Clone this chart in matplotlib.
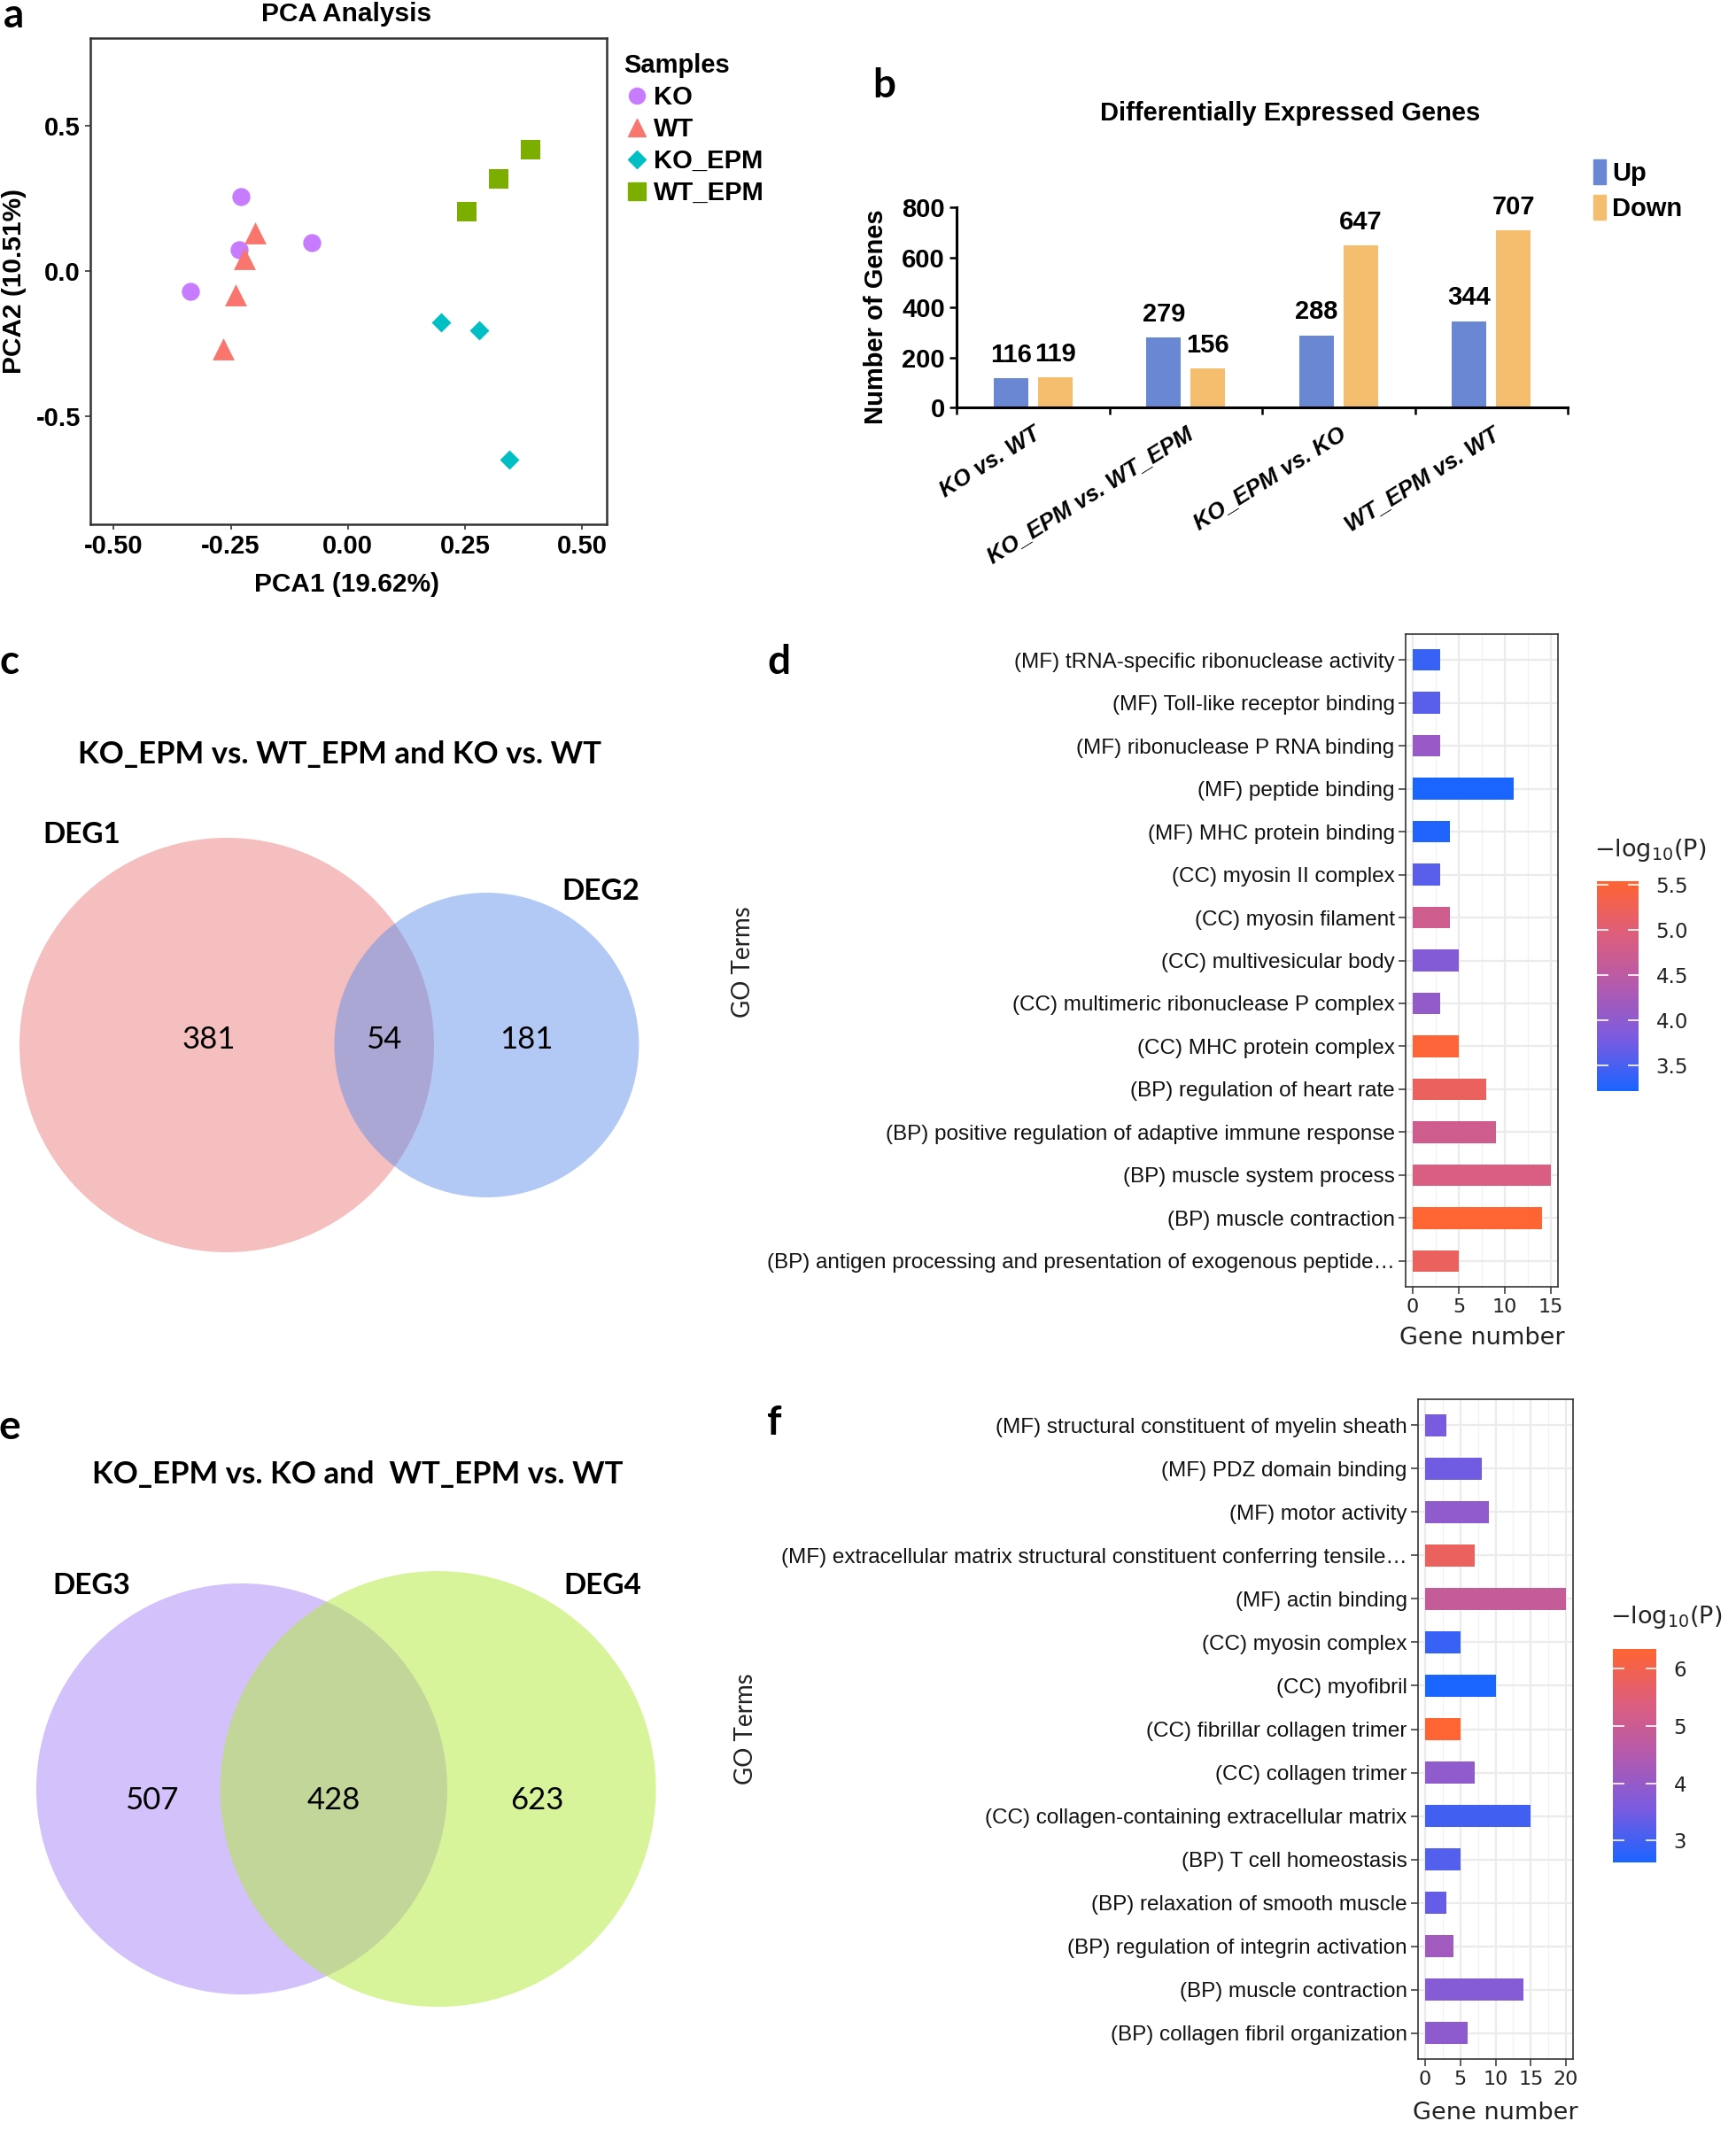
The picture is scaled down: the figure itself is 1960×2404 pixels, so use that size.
import numpy as np
import matplotlib
matplotlib.use("Agg")
import matplotlib.pyplot as plt
from matplotlib import font_manager
from matplotlib.colors import LinearSegmentedColormap, Normalize
from matplotlib.patches import Circle, Patch
from matplotlib.lines import Line2D
from matplotlib.cm import ScalarMappable

plt.rcParams['font.family'] = ['Liberation Sans', 'DejaVu Sans']
plt.rcParams['axes.unicode_minus'] = False

_names = {f.name for f in font_manager.fontManager.ttflist}
NARROW = ['Liberation Sans Narrow', 'Liberation Sans'] if 'Liberation Sans Narrow' in _names else ['Liberation Sans']
CAL = ['Lato', 'DejaVu Sans']

# ---------------- data ----------------
# a: PCA
ko_pc1 = [-0.229, -0.233, -0.337, -0.077]
ko_pc2 = [0.255, 0.072, -0.070, 0.098]
wt_pc1 = [-0.199, -0.220, -0.239, -0.266]
wt_pc2 = [0.131, 0.042, -0.083, -0.269]
koepm_pc1 = [0.200, 0.280, 0.345]
koepm_pc2 = [-0.176, -0.205, -0.648]
wtepm_pc1 = [0.255, 0.322, 0.390]
wtepm_pc2 = [0.205, 0.315, 0.418]

# b: DEG counts
comparisons = ['KO vs. WT', 'KO_EPM vs. WT_EPM', 'KO_EPM vs. KO', 'WT_EPM vs. WT']
deg_up = [116, 279, 288, 344]
deg_down = [119, 156, 647, 707]

# c, e: Venn counts (only A, both, only B)
venn_c = [381, 54, 181]
venn_e = [507, 428, 623]

# d: GO terms
go_d_terms = ['(MF) tRNA-specific ribonuclease activity', '(MF) Toll-like receptor binding',
              '(MF) ribonuclease P RNA binding', '(MF) peptide binding', '(MF) MHC protein binding',
              '(CC) myosin II complex', '(CC) myosin filament', '(CC) multivesicular body',
              '(CC) multimeric ribonuclease P complex', '(CC) MHC protein complex',
              '(BP) regulation of heart rate', '(BP) positive regulation of adaptive immune response',
              '(BP) muscle system process', '(BP) muscle contraction',
              '(BP) antigen processing and presentation of exogenous peptide\u2026']
go_d_count = [3, 3, 3, 11, 4, 3, 4, 5, 3, 5, 8, 9, 15, 14, 5]
go_d_logp = [3.40, 3.60, 4.10, 3.21, 3.25, 3.60, 4.75, 3.90, 4.05, 5.50, 5.20, 4.75, 4.90, 5.54, 5.20]

# f: GO terms
go_f_terms = ['(MF) structural constituent of myelin sheath', '(MF) PDZ domain binding',
              '(MF) motor activity',
              '(MF) extracellular matrix structural constituent conferring tensile\u2026',
              '(MF) actin binding', '(CC) myosin complex', '(CC) myofibril',
              '(CC) fibrillar collagen trimer', '(CC) collagen trimer',
              '(CC) collagen-containing extracellular matrix', '(BP) T cell homeostasis',
              '(BP) relaxation of smooth muscle', '(BP) regulation of integrin activation',
              '(BP) muscle contraction', '(BP) collagen fibril organization']
go_f_count = [3, 8, 9, 7, 20, 5, 10, 5, 7, 15, 5, 3, 4, 14, 6]
go_f_logp = [3.55, 3.45, 3.90, 5.80, 4.85, 2.92, 2.62, 6.34, 3.90, 3.00, 3.18, 3.36, 4.18, 3.75, 3.88]

# ---------------- layout helpers ----------------
W, H = 1960, 2404


def rect(x0, y0, x1, y1):
    return [x0 / W, 1 - y1 / H, (x1 - x0) / W, (y1 - y0) / H]


def fp(x, y):
    return x / W, 1 - y / H


fig = plt.figure(figsize=(W / 100, H / 100), dpi=100)

# panel letters
for letter, (lx, ly) in zip('abcdef', [(15, 18), (998, 97), (11, 748), (879, 748), (11, 1612), (874, 1607)]):
    fig.text(*fp(lx, ly), letter, family=CAL, weight='bold', fontsize=33, ha='center', va='center')

# ---------------- a: PCA ----------------
ax = fig.add_axes(rect(102, 43, 685, 592))
pal = ['#C77CFF', '#F8766D', '#00BFC4', '#7CAE00']
ax.scatter(ko_pc1, ko_pc2, s=215, marker='o', color=pal[0], linewidths=0)
ax.scatter(wt_pc1, wt_pc2, s=320, marker='^', color=pal[1], linewidths=0)
ax.scatter(koepm_pc1, koepm_pc2, s=125, marker='D', color=pal[2], linewidths=0)
ax.scatter(wtepm_pc1, wtepm_pc2, s=240, marker='s', color=pal[3], linewidths=0)
ax.set_xlim(-0.55, 0.553)
ax.set_ylim(-0.87, 0.80)
ax.set_xticks([-0.5, -0.25, 0, 0.25, 0.5])
ax.set_xticklabels(['-0.50', '-0.25', '0.00', '0.25', '0.50'])
ax.set_yticks([-0.5, 0, 0.5])
ax.set_yticklabels(['-0.5', '0.0', '0.5'])
for lab in ax.get_xticklabels() + ax.get_yticklabels():
    lab.set_family(NARROW)
    lab.set_weight('bold')
    lab.set_fontsize(21)
ax.tick_params(length=4, width=1.2, color='#333333', pad=4)
for sp in ax.spines.values():
    sp.set_linewidth(1.8)
    sp.set_color('#333333')
fig.text(*fp(391, 2), 'PCA Analysis', family=NARROW, weight='bold', fontsize=21.5, ha='center', va='top')
fig.text(*fp(391, 660), 'PCA1 (19.62%)', family=NARROW, weight='bold', fontsize=21.5, ha='center', va='center')
fig.text(*fp(16, 317), 'PCA2 (10.51%)', family=NARROW, weight='bold', fontsize=21.5, ha='center', va='center',
         rotation=90)
handles = [Line2D([], [], ls='', marker=m, color=c, markersize=ms)
           for m, c, ms in zip(['o', '^', 'D', 's'], pal, [13, 15, 10, 14])]
leg = fig.legend(handles, ['KO', 'WT', 'KO_EPM', 'WT_EPM'], loc='upper left', bbox_to_anchor=fp(690, 45),
                 frameon=False, title='Samples', alignment='left', handletextpad=0.15, labelspacing=0.28,
                 borderpad=0, handlelength=1.0, prop={'family': NARROW, 'weight': 'bold', 'size': 21})
leg.get_title().set_family(NARROW)
leg.get_title().set_weight('bold')
leg.get_title().set_fontsize(21)

# ---------------- b: DEG bars ----------------
ax = fig.add_axes(rect(1080, 234, 1770, 460))
x = np.arange(len(comparisons))
bw, off = 0.225, 0.145
b1 = ax.bar(x - off, deg_up, bw, color='#6A87D4')
b2 = ax.bar(x + off, deg_down, bw, color='#F5BE6E')
for bars in (b1, b2):
    for r in bars:
        ax.annotate(f'{int(r.get_height())}', (r.get_x() + r.get_width() / 2, r.get_height()),
                    xytext=(0, 19), textcoords='offset points', ha='center', va='center',
                    family=NARROW, weight='bold', fontsize=21)
ax.set_xlim(-0.5, 3.5)
ax.set_ylim(0, 800)
ax.set_yticks([0, 200, 400, 600, 800])
ax.set_xticks(np.arange(-0.5, 4, 1))
ax.set_xticklabels([])
ax.set_xticks(x, minor=True)
ax.set_xticklabels(comparisons, minor=True, rotation=32, ha='right', va='top', rotation_mode='anchor',
                   family=NARROW, weight='bold', style='italic', fontsize=18.5)
ax.tick_params(axis='x', which='minor', length=0, pad=13)
ax.tick_params(axis='both', which='major', length=6, width=1.8)
for lab in ax.get_yticklabels():
    lab.set_family(NARROW)
    lab.set_weight('bold')
    lab.set_fontsize(21)
for s in ['top', 'right']:
    ax.spines[s].set_visible(False)
for s in ['left', 'bottom']:
    ax.spines[s].set_linewidth(2.2)
fig.text(*fp(1457, 128), 'Differentially Expressed Genes', family=NARROW, weight='bold', fontsize=21,
         ha='center', va='center')
fig.text(*fp(989, 358), 'Number of Genes', weight='bold', fontsize=21, ha='center', va='center', rotation=90)
fig.legend([Patch(color='#6A87D4'), Patch(color='#F5BE6E')], ['Up', 'Down'], loc='upper left',
           bbox_to_anchor=fp(1784, 165), frameon=False, handlelength=0.5, handleheight=1.1, handletextpad=0.25,
           labelspacing=0.35, borderpad=0, prop={'family': NARROW, 'weight': 'bold', 'size': 21})


# ---------------- c, e: Venn ----------------
def lens_area(r1, r2, d):
    if d >= r1 + r2:
        return 0.0
    if d <= abs(r1 - r2):
        return np.pi * min(r1, r2) ** 2
    a1 = r1 ** 2 * np.arccos((d * d + r1 * r1 - r2 * r2) / (2 * d * r1))
    a2 = r2 ** 2 * np.arccos((d * d + r2 * r2 - r1 * r1) / (2 * d * r2))
    a3 = 0.5 * np.sqrt((-d + r1 + r2) * (d + r1 - r2) * (d - r1 + r2) * (d + r1 + r2))
    return a1 + a2 - a3


def venn_geometry(counts, r_big):
    na, nb = counts[0] + counts[1], counts[2] + counts[1]
    s = r_big / np.sqrt(max(na, nb))
    ra, rb = s * np.sqrt(na), s * np.sqrt(nb)
    target = np.pi * s * s * counts[1]
    lo, hi = abs(ra - rb), ra + rb
    for _ in range(60):
        mid = (lo + hi) / 2
        if lens_area(ra, rb, mid) > target:
            lo = mid
        else:
            hi = mid
    return ra, rb, (lo + hi) / 2


def draw_venn(box, counts, r_big, cx, cy, col_a, col_b, alpha_b, lx_a, lx_b, ly, names, name_pos,
              title, title_xy):
    ax = fig.add_axes(rect(*box))
    ax.set_xlim(box[0], box[2])
    ax.set_ylim(box[3], box[1])
    ax.axis('off')
    ra, rb, d = venn_geometry(counts, r_big)
    ax.add_patch(Circle((cx, cy), ra, color=col_a, lw=0))
    ax.add_patch(Circle((cx + d, cy), rb, color=col_b, alpha=alpha_b, lw=0))
    mid = ((cx + d - rb) + (cx + ra)) / 2
    for xx, v in zip([lx_a, mid, lx_b], counts):
        ax.text(xx, ly, str(v), family=CAL, fontsize=25, ha='center', va='center')
    for (nx, ny), nm in zip(name_pos, names):
        ax.text(nx, ny, nm, family=CAL, weight='bold', fontsize=24, ha='center', va='center')
    ax.text(*title_xy, title, family=CAL, weight='bold', fontsize=25, ha='center', va='center')


draw_venn((0, 700, 860, 1540), venn_c, 234, 256, 1180, '#F5BFC0', '#5C8EEA', 0.48, 236, 594, 1174,
          ['DEG1', 'DEG2'], [(92, 942), (678, 1006)], 'KO_EPM vs. WT_EPM and KO vs. WT', (383, 852))
draw_venn((0, 1560, 860, 2404), venn_e, 246, 273, 2020, '#D3C1FB', '#B1EB37', 0.5, 171, 606, 2033,
          ['DEG3', 'DEG4'], [(103, 1790), (680, 1791)], 'KO_EPM vs. KO and  WT_EPM vs. WT', (404, 1665))

# ---------------- d, f: GO bars ----------------
go_cmap = LinearSegmentedColormap.from_list('go', ['#1A64FF', '#7A5BE0', '#B35AAE', '#DD5E7C', '#FF6432'])


def go_panel(box, terms, counts, logp, xmax, xticks, cbox, cticks, title_xy, label_xy, ylab_xy):
    ax = fig.add_axes(rect(*box))
    norm = Normalize(min(logp), max(logp))
    y = np.arange(len(terms))
    ax.barh(y, counts, height=0.5, color=go_cmap(norm(np.array(logp))), zorder=3)
    ax.set_xlim(-0.05 * xmax, 1.05 * xmax)
    ax.set_ylim(len(terms) - 0.4, -0.6)
    ax.set_yticks(y)
    ax.set_yticklabels(terms, fontsize=17.5, color='#111111')
    ax.set_xticks(xticks)
    ax.set_xticks(np.array(xticks[:-1]) + (xticks[1] - xticks[0]) / 2, minor=True)
    for lab in ax.get_xticklabels():
        lab.set_family('DejaVu Sans')
        lab.set_fontsize(16)
        lab.set_color('#222222')
    ax.tick_params(which='major', length=6, width=1.1, color='#333333', pad=3)
    ax.tick_params(which='minor', length=0)
    ax.grid(which='major', color='#EBEBEB', lw=1.6)
    ax.grid(which='minor', axis='x', color='#F2F2F2', lw=0.9)
    ax.set_axisbelow(True)
    for sp in ax.spines.values():
        sp.set_color('#333333')
        sp.set_linewidth(1.2)
    fig.text(*fp((box[0] + box[2]) / 2, label_xy), 'Gene number', family='DejaVu Sans', fontsize=19.5,
             color='#222222', ha='center', va='center')
    fig.text(*fp(*ylab_xy), 'GO Terms', family=CAL, fontsize=20, color='#222222', ha='center', va='center',
             rotation=90)
    cax = fig.add_axes(rect(*cbox))
    cb = fig.colorbar(ScalarMappable(norm=norm, cmap=go_cmap), cax=cax)
    cb.outline.set_visible(False)
    cb.set_ticks(cticks)
    cb.set_ticklabels([f'{t:g}' if len(cticks) < 5 else f'{t:.1f}' for t in cticks])
    cax.tick_params(direction='in', length=9, width=1.2, color='white', left=True, right=True, labelsize=16.5,
                    labelcolor='#222222', pad=14)
    for lab in cax.get_yticklabels():
        lab.set_family('DejaVu Sans')
    fig.text(*fp(*title_xy), '\u2212log$_{10}$(P)', family='DejaVu Sans', fontsize=19.5, color='#222222',
             ha='left', va='center')


go_panel((1587, 716, 1759, 1453), go_d_terms, go_d_count, go_d_logp, 15, [0, 5, 10, 15],
         (1803, 995, 1850, 1232), [3.5, 4.0, 4.5, 5.0, 5.5], (1800, 960), 1511, (839, 1086))
go_panel((1601, 1580, 1776, 2325), go_f_terms, go_f_count, go_f_logp, 20, [0, 5, 10, 15, 20],
         (1821, 1862, 1870, 2103), [3, 4, 5, 6], (1818, 1826), 2386, (842, 1952))

fig.savefig('out.png', dpi=100)
